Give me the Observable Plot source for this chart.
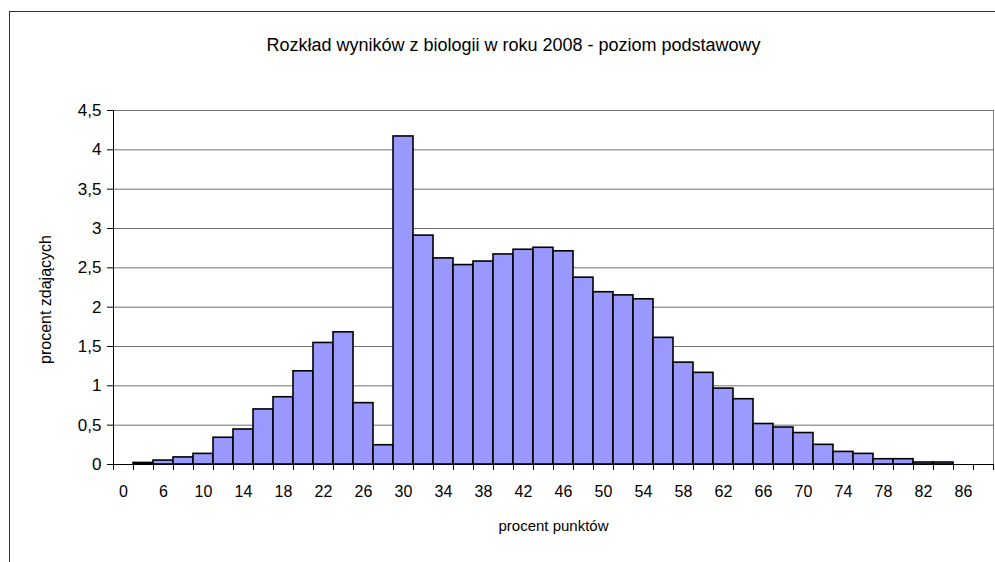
<!DOCTYPE html>
<html>
<head>
<meta charset="utf-8">
<script src="https://cdn.jsdelivr.net/npm/d3@7"></script>
<script src="https://cdn.jsdelivr.net/npm/@observablehq/plot@0.6"></script>
<style>
  html, body { margin: 0; padding: 0; background: #fff; overflow: hidden; }
  #wrap { position: relative; width: 995px; height: 562px; }
  #border { position: absolute; left: 9px; top: 11px; width: 1200px; height: 800px;
            border-left: 1px solid #333; border-top: 1px solid #333; pointer-events: none; }
  svg { font-family: "Liberation Sans", Arial, sans-serif; }
</style>
</head>
<body>
<div id="wrap"><div id="border"></div></div>
<script>
const title = "Rozkład wyników z biologii w roku 2008 - poziom podstawowy";
const xTitle = "procent punktów";
const yTitle = "procent zdających";
const categories = ["0","4","6","8","10","12","14","16","18","20","22","24","26","28","30","32","34","36","38","40","42","44","46","48","50","52","54","56","58","60","62","64","66","68","70","72","74","76","78","80","82","84","86","88"];
const values = [0,0.02,0.05,0.09,0.135,0.34,0.445,0.70,0.855,1.185,1.545,1.68,0.78,0.245,4.17,2.91,2.62,2.535,2.58,2.67,2.73,2.755,2.71,2.375,2.19,2.15,2.10,1.61,1.295,1.165,0.965,0.83,0.515,0.47,0.40,0.25,0.16,0.135,0.067,0.067,0.025,0.025,0,0];
const yTicks = [0,0.5,1,1.5,2,2.5,3,3.5,4,4.5];

const data = categories.map((c, i) => ({cat: c, v: values[i]}));

const W = 995, H = 562, mL = 113, mR = 2, mT = 110, mB = 98;
const bw = (W - mL - mR) / categories.length;
const last = categories[categories.length - 1];
const first = categories[0];

const chart = Plot.plot({
  width: W, height: H,
  marginLeft: mL, marginRight: mR, marginTop: mT, marginBottom: mB,
  style: {fontFamily: "Liberation Sans, Arial, sans-serif", background: "transparent"},
  x: {type: "band", domain: categories, padding: 0},
  y: {domain: [0, 4.5]},
  marks: [
    Plot.gridY(yTicks, {stroke: "#707070", strokeOpacity: 1, strokeWidth: 1}),
    Plot.ruleX([last], {y1: 0, y2: 4.5, stroke: "#808080", dx: bw / 2}),
    Plot.barY(data.filter(d => d.v > 0), {x: "cat", y: "v", fill: "#9999ff", stroke: "#000", strokeWidth: 1.6}),
    Plot.ruleY([0], {stroke: "#000", strokeWidth: 1}),
    Plot.ruleX([first], {y1: 0, y2: 4.5, stroke: "#000", dx: -bw / 2}),
    // boundary tick marks below the axis
    Plot.axisX({tickSize: 6, tickFormat: () => "", dx: -bw / 2, stroke: "#000", label: null}),
    Plot.ruleX([last], {y1: 0, y2: -6 * 4.5 / (H - mT - mB), stroke: "#000", dx: bw / 2}),
    // category labels
    Plot.axisX({tickSize: 0, tickPadding: 21, fontSize: 16, fill: "#000",
      tickFormat: (d) => categories.indexOf(d) % 2 === 0 ? d : "", label: null}),
    Plot.axisY(yTicks, {tickSize: 6, tickPadding: 6, fontSize: 17, fill: "#000", stroke: "#000",
      tickFormat: d => String(d).replace(".", ","), label: null}),
    Plot.text([yTitle], {frameAnchor: "left", textAnchor: "middle", dx: -68, dy: 12, rotate: -90, fontSize: 16, fill: "#000"}),
    Plot.text([xTitle], {frameAnchor: "bottom", dy: 66, fontSize: 15, fill: "#000"}),
    Plot.text([title], {frameAnchor: "top", dx: -40, dy: -72, fontSize: 18, fill: "#000"})
  ]
});
document.getElementById("wrap").appendChild(chart);
chart.style.position = "absolute";
chart.style.left = "0px";
chart.style.top = "0px";
</script>
</body>
</html>
